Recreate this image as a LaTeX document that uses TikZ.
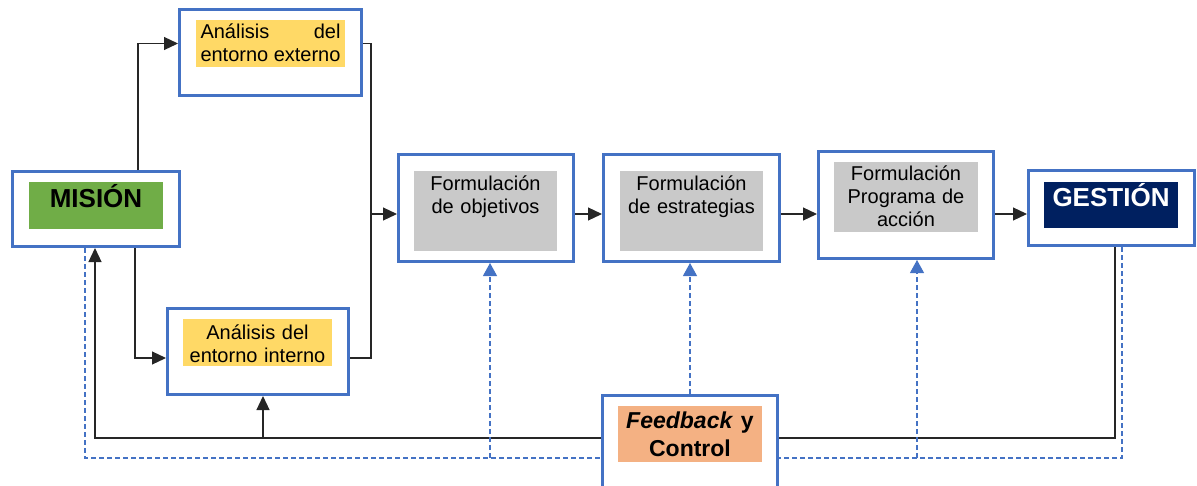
\documentclass[tikz,border=0pt]{standalone}
\usepackage{fontspec}
\setmainfont{Liberation Sans}
\usetikzlibrary{arrows.meta}

\definecolor{boxblue}{HTML}{4472C4}
\definecolor{misgreen}{HTML}{70AD47}
\definecolor{anayellow}{HTML}{FFD966}
\definecolor{formgray}{HTML}{C9C9C9}
\definecolor{gesnavy}{HTML}{002060}
\definecolor{fborange}{HTML}{F4B183}

\tikzset{
	stage/.style={draw=boxblue, line width=3pt, fill=white, inner sep=0pt},
	tag/.style={inner xsep=4.5pt, inner ysep=0pt, align=center, font=\fontsize{20}{23}\selectfont},
	arr/.style={-{Triangle[length=14pt,width=13pt]}, line width=1.2pt, color=black!85},
	line/.style={line width=1.2pt, color=black!85},
	dashline/.style={color=boxblue, line width=1.1pt, dash pattern=on 5pt off 3pt},
	darr/.style={dashline, -{Triangle[length=13pt,width=14pt]}},
}

\begin{document}
\begin{tikzpicture}[x=1pt, y=-1pt]
	\useasboundingbox (0,0) rectangle (1197,485);
	\clip (0,0) rectangle (1197,485);

	% cajas
	\node[stage, minimum width=167pt, minimum height=75pt] (mision) at (96,209) {};
	\node[stage, minimum width=182pt, minimum height=86pt] (externo) at (270.5,52.5) {};
	\node[stage, minimum width=181pt, minimum height=86pt] (interno) at (258,351.5) {};
	\node[stage, minimum width=175pt, minimum height=107pt] (objetivos) at (486,208) {};
	\node[stage, minimum width=176pt, minimum height=107pt] (estrategias) at (691.5,208) {};
	\node[stage, minimum width=175pt, minimum height=107pt] (programa) at (906,205) {};
	\node[stage, minimum width=166pt, minimum height=75pt] (gestion) at (1111.5,208) {};
	\node[stage, minimum width=175pt, minimum height=100pt] (feedback) at (690,445.5) {};

	% textos
	\node[tag, fill=misgreen, text width=125pt, text height=25pt, text depth=22pt,
		font=\fontsize{26}{30}\selectfont\bfseries] (misT) at (96,205.5) {MISIÓN};
	\node[tag, fill=anayellow, text width=140pt, text height=18pt, text depth=29pt,
		align=justify] (extT) at (270.5,43.5) {Análisis\hfill del\\entorno externo};
	\node[tag, fill=anayellow, text width=140pt, text height=20pt, text depth=27pt] (intT) at (257.5,342.5) {Análisis del\\entorno interno};
	\node[tag, fill=formgray, text width=134pt, text height=19pt, text depth=61pt] (objT) at (485.5,211) {Formulación\\de objetivos};
	\node[tag, fill=formgray, text width=134pt, text height=19pt, text depth=61pt] (estT) at (691.5,211) {Formulación\\de estrategias};
	\node[tag, fill=formgray, text width=135pt, text height=18.7pt, text depth=51.3pt] (proT) at (906,197) {Formulación\\Programa de\\acción};
	\node[tag, fill=gesnavy, text=white, text width=125pt, text height=24pt, text depth=22pt,
		font=\fontsize{26}{30}\selectfont\bfseries] (gesT) at (1111,205) {GESTIÓN};
	\node[tag, fill=fborange, text width=135pt, text height=22pt, text depth=34pt,
		font=\fontsize{23}{28}\selectfont\bfseries] (fbT) at (690,434) {\textit{Feedback} y\\Control};

	% flujo principal
	\coordinate (merge) at (371,214);
	\draw[arr] ([xshift=42pt]mision.north) |- (extT -| externo.west);
	\draw[arr] ([xshift=39pt]mision.south) |- ([yshift=-6.5pt]interno.west);
	\draw[line] (extT -| externo.east) -| (merge);
	\draw[line] ([yshift=-6.5pt]interno.east) -| (merge);
	\draw[arr] (merge) -- (merge -| objetivos.west);
	\draw[arr] (merge -| objetivos.east) -- (merge -| estrategias.west);
	\draw[arr] (merge -| estrategias.east) -- (merge -| programa.west);
	\draw[arr] (merge -| programa.east) -- (merge -| gestion.west);

	% lazo de retorno
	\coordinate (lpl) at (95,438);
	\coordinate (lpi) at (263,438);
	\coordinate (lpr) at (1115,438);
	\draw[line] (lpr |- gestion.south) -- (lpr) -- (lpr -| feedback.east);
	\draw[arr] (lpl -| feedback.west) -- (lpl) -- (lpl |- mision.south);
	\draw[arr] (lpi) -- (lpi |- interno.south);

	% control
	\coordinate (dl) at (85,458);
	\coordinate (dr) at (1122,458);
	\coordinate (d1) at (490,458);
	\coordinate (d3) at (917,458);
	\draw[dashline] (dl |- mision.south) -- (dl) -- (dl -| feedback.west);
	\draw[dashline] (dr |- gestion.south) -- (dr) -- (dr -| feedback.east);
	\draw[darr] (d1) -- (d1 |- objetivos.south);
	\draw[darr] (d3) -- (d3 |- programa.south);
	\draw[darr] (feedback.north) -- (feedback.north |- estrategias.south);
\end{tikzpicture}
\end{document}
